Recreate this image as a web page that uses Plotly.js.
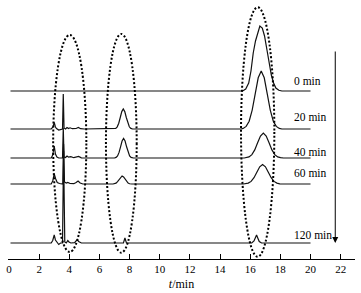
<!DOCTYPE html>
<html>
<head>
<meta charset="utf-8">
<script src="https://cdn.plot.ly/plotly-3.0.1.min.js"></script>
<style>html,body{margin:0;padding:0;background:#fff;}#chart{width:361px;height:293px;}</style>
</head>
<body>
<div id="chart"></div>
<script>
// Series labels (sampling time) and vertical stacking offsets
const seriesNames = ["0 min", "20 min", "40 min", "60 min", "120 min"];
const offsets = [168, 130, 101, 75, 16];

// Retention time (min) and detector signal for each chromatogram
const t_0 = [0.1, 15.5, 15.7, 15.9, 16.05, 16.2, 16.35, 16.5, 16.64, 16.8, 16.95, 17.1, 17.25, 17.4, 17.55, 17.7, 17.9, 18.1, 20];
const s_0 = [0, 0, 2, 8, 20, 38, 50, 57, 65, 63, 55, 42, 28, 16, 8, 3, 0.7, 0, 0];

const t_20 = [0.1, 2.8, 2.92, 3.0, 3.08, 3.15, 3.3, 3.45, 3.55, 3.6, 3.65, 3.75, 3.85, 3.95, 4.05, 4.2, 4.45, 4.6, 4.75, 5.0,
  7.0, 7.08, 7.18, 7.28, 7.38, 7.48, 7.58, 7.68, 7.78, 7.88, 7.98, 8.08, 8.2,
  15.4, 15.53, 15.73, 15.93, 16.13, 16.33, 16.53, 16.73, 16.93, 17.13, 17.33, 17.53, 17.73, 17.93, 18.1, 20];
const s_20 = [0, 0, 2, 6.5, 2, 0.5, -1, 0, 0, 35, 1, 0, 1.5, 0.5, 1.2, 0.3, 0.5, 1.5, 0.3, 0,
  0, 0.6, 2.2, 5.8, 11.5, 17.4, 20, 17.4, 11.5, 5.8, 2.2, 0.6, 0,
  0, 0.6, 2.6, 7.8, 18.9, 35.2, 51.2, 58, 51.2, 35.2, 18.9, 7.8, 2.6, 0.6, 0, 0];

const t_40 = [0.1, 2.8, 2.9, 3.0, 3.08, 3.18, 3.3, 3.45, 3.55, 3.6, 3.65, 3.75, 3.85, 3.95, 4.1, 4.3, 4.5, 4.62, 4.8, 5.0,
  7.0, 7.1, 7.2, 7.3, 7.4, 7.5, 7.6, 7.7, 7.8, 7.9, 8.0, 8.1, 8.25,
  15.6, 15.73, 15.92, 16.11, 16.3, 16.49, 16.68, 16.87, 17.06, 17.25, 17.44, 17.63, 17.82, 18.01, 18.2, 20];
const s_40 = [0, 0, 3, 12, 4, 1, 0, 0.3, 0, 30, 1, 0.5, 2, 0.8, 1.3, 0.3, 0.8, 1.5, 0.2, 0,
  0, 0.6, 2.1, 5.6, 11.2, 17, 19.5, 17, 11.2, 5.6, 2.1, 0.6, 0,
  0, 0.3, 1.1, 3.4, 8.1, 15.2, 22, 25, 22, 15.2, 8.1, 3.4, 1.1, 0.3, 0, 0];

const t_60 = [0.1, 2.8, 2.9, 3.0, 3.1, 3.2, 3.35, 3.5, 3.57, 3.62, 3.68, 3.8, 3.9, 4.05, 4.3, 4.45, 4.58, 4.72, 4.9,
  6.9, 7.0, 7.1, 7.2, 7.3, 7.4, 7.5, 7.6, 7.7, 7.8, 7.9, 8.0, 8.15,
  15.55, 15.68, 15.87, 16.06, 16.25, 16.44, 16.63, 16.82, 17.01, 17.2, 17.39, 17.58, 17.77, 17.96, 18.15, 20];
const s_60 = [0, 0, 3, 10, 5, 1.5, 0.5, 0, 0, 40, 2, 1, 1.5, 0.5, 0.3, 1.5, 3, 1, 0,
  0, 0.25, 0.9, 2.3, 4.6, 7, 8, 7, 4.6, 2.3, 0.9, 0.25, 0,
  0, 0.2, 0.9, 2.6, 6.3, 11.8, 17.2, 19.5, 17.2, 11.8, 6.3, 2.6, 0.9, 0.2, 0, 0];

const t_120 = [0.1, 2.8, 2.9, 3.0, 3.08, 3.18, 3.3, 3.42, 3.55, 3.62, 3.7, 3.8, 3.9, 3.98, 4.1, 4.35, 4.45, 4.53, 4.62, 4.8,
  7.59, 7.69, 7.79,
  16.1, 16.25, 16.35, 16.42, 16.5, 16.6, 16.75, 20];
const s_120 = [0, 0, 2.5, 8, 3, 0.5, -1.5, 0, 0, 92, 1, 0, 2.5, 1, 0, 0.3, 2, 3.5, 1.5, 0,
  0, 5, 0,
  0, 2, 6, 8, 5, 1.5, 0, 0];

const times = [t_0, t_20, t_40, t_60, t_120];
const signals = [s_0, s_20, s_40, s_60, s_120];

// Axis ticks
const tickValues = [0, 2, 4, 6, 8, 10, 12, 14, 16, 18, 20, 22];
const tickLabels = ["0", "2", "4", "6", "8", "10", "12", "14", "16", "18", "20", "22"];

// Highlight regions (retention-time windows circled in the figure)
const regionT = [[2.93, 5.13], [6.43, 8.47], [15.39, 17.6]];
const regionY = [[7, 224], [6.3, 225], [2.3, 251.7]];

const serif = "'Liberation Serif', 'Times New Roman', serif";

const traces = times.map((tt, i) => ({
  x: tt,
  y: signals[i].map(v => v + offsets[i]),
  type: "scatter",
  mode: "lines",
  line: {color: "#111", width: 1.2},
  hoverinfo: "skip",
  name: seriesNames[i]
}));

const labelY = [178, 142.3, 107.3, 86, 24];
const annotations = seriesNames.map((n, i) => ({
  x: 18.75, y: labelY[i], xref: "x", yref: "y",
  text: n, showarrow: false, xanchor: "left", yanchor: "middle",
  font: {family: serif, size: 11.5, color: "#000"}
}));
annotations.push({
  x: 21.64, y: 16, ax: 21.64, ay: 209, xref: "x", yref: "y", axref: "x", ayref: "y",
  text: "", showarrow: true, arrowhead: 2, arrowsize: 1.2, arrowwidth: 1, arrowcolor: "#000", standoff: 0
});

const shapes = regionT.map((r, i) => ({
  type: "circle", xref: "x", yref: "y",
  x0: r[0], x1: r[1], y0: regionY[i][0], y1: regionY[i][1],
  line: {color: "#000", width: 2, dash: "2px,2px"}
}));

const layout = {
  width: 361, height: 293,
  margin: {l: 8, r: 6, t: 0, b: 34},
  paper_bgcolor: "#fff", plot_bgcolor: "#fff",
  showlegend: false,
  xaxis: {
    range: [-0.066, 22.95],
    tickvals: tickValues, ticktext: tickLabels,
    ticks: "inside", ticklen: 5, tickwidth: 1, tickcolor: "#000",
    showline: true, linecolor: "#000", linewidth: 1,
    showgrid: false, zeroline: false,
    tickfont: {family: serif, size: 11, color: "#000"},
    title: {text: "<i>t</i>/min", font: {family: serif, size: 12, color: "#000"}, standoff: 5}
  },
  yaxis: {
    range: [0, 259], visible: false, showgrid: false, zeroline: false
  },
  annotations: annotations,
  shapes: shapes
};

Plotly.newPlot("chart", traces, layout, {staticPlot: true, displayModeBar: false});
</script>
</body>
</html>
